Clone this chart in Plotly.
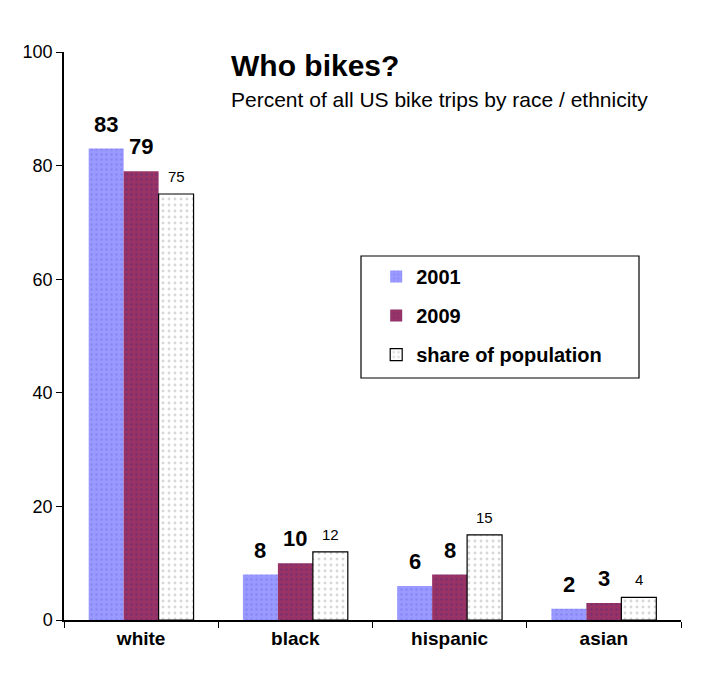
import plotly.graph_objects as go

categories = ["white", "black", "hispanic", "asian"]
values_2001 = [83, 8, 6, 2]
values_2009 = [79, 10, 8, 3]
values_pop = [75, 12, 15, 4]
series_names = ["2001", "2009", "share of population"]

FONT = "Liberation Sans, Arial, sans-serif"

fig = go.Figure()
fig.add_trace(go.Bar(
    x=categories, y=values_2001, name=series_names[0], legendgroup="a",
    marker=dict(color="#9999FF", line=dict(width=0),
                pattern=dict(shape=".", fgcolor="#7373EC", bgcolor="#9999FF", size=5, solidity=0.2)),
))
fig.add_trace(go.Bar(
    x=categories, y=values_2009, name=series_names[1], legendgroup="b",
    marker=dict(color="#993366", line=dict(width=0),
                pattern=dict(shape=".", fgcolor="#5A2A7A", bgcolor="#993366", size=5, solidity=0.2)),
))
fig.add_trace(go.Bar(
    x=categories, y=values_pop, name=series_names[2], legendgroup="c",
    marker=dict(color="white", line=dict(width=1.2, color="black"),
                pattern=dict(shape=".", fgcolor="#B0B0B0", bgcolor="white", size=6, solidity=0.18)),
))

# value labels above bars, placed at the data values
annotations = []
bar_px = 35
for k, (vals, fsize, bold, ysh) in enumerate([
        (values_2001, 22, True, 10), (values_2009, 22, True, 10), (values_pop, 15, False, 7)]):
    for cat, v in zip(categories, vals):
        annotations.append(dict(
            x=cat, y=v, xref="x", yref="y", text=f"<b>{v}</b>" if bold else str(v),
            showarrow=False, xanchor="center", yanchor="bottom",
            xshift=(k - 1) * bar_px, yshift=ysh,
            font=dict(family=FONT, size=fsize, color="black")))

annotations += [
    dict(text="<b>Who bikes?</b>", xref="paper", yref="paper",
         x=(229 - 64) / 617, y=(620 - 47) / 568, xanchor="left", yanchor="top",
         showarrow=False, font=dict(family=FONT, size=30)),
    dict(text="Percent of all US bike trips by race / ethnicity", xref="paper", yref="paper",
         x=(229 - 64) / 617, y=(620 - 86) / 568, xanchor="left", yanchor="top",
         showarrow=False, font=dict(family=FONT, size=21)),
]

fig.update_layout(
    width=713, height=674,
    margin=dict(l=56, r=40, t=44, b=62, autoexpand=False),
    paper_bgcolor="white", plot_bgcolor="white",
    barmode="group", bargap=0.32, bargroupgap=0,
    font=dict(family=FONT, color="black"),
    showlegend=True,
    legend=dict(x=0.506, y=0.639, xanchor="left", yanchor="top",
                bgcolor="rgba(0,0,0,0)", borderwidth=0,
                font=dict(family=FONT, size=20, color="black", weight="bold"),
                tracegroupgap=10, itemwidth=30),
    xaxis=dict(showline=True, linecolor="black", linewidth=1.5, automargin=False,
               ticks="outside", ticklen=6, tickcolor="black", tickson="boundaries",
               tickfont=dict(family=FONT, size=19, weight="bold"), showgrid=False),
    yaxis=dict(range=[0, 100], dtick=20, showline=True, linecolor="black", linewidth=1.5,
               automargin=False,
               ticks="outside", ticklen=6, tickcolor="black",
               tickfont=dict(family=FONT, size=18), showgrid=False, zeroline=False),
    shapes=[dict(type="rect", xref="paper", yref="paper",
                 x0=(361 - 64) / 617, x1=(639 - 64) / 617,
                 y0=(620 - 378) / 568, y1=(620 - 256) / 568,
                 line=dict(color="black", width=1.2))],
    annotations=annotations,
)

fig.write_html("out.html")
